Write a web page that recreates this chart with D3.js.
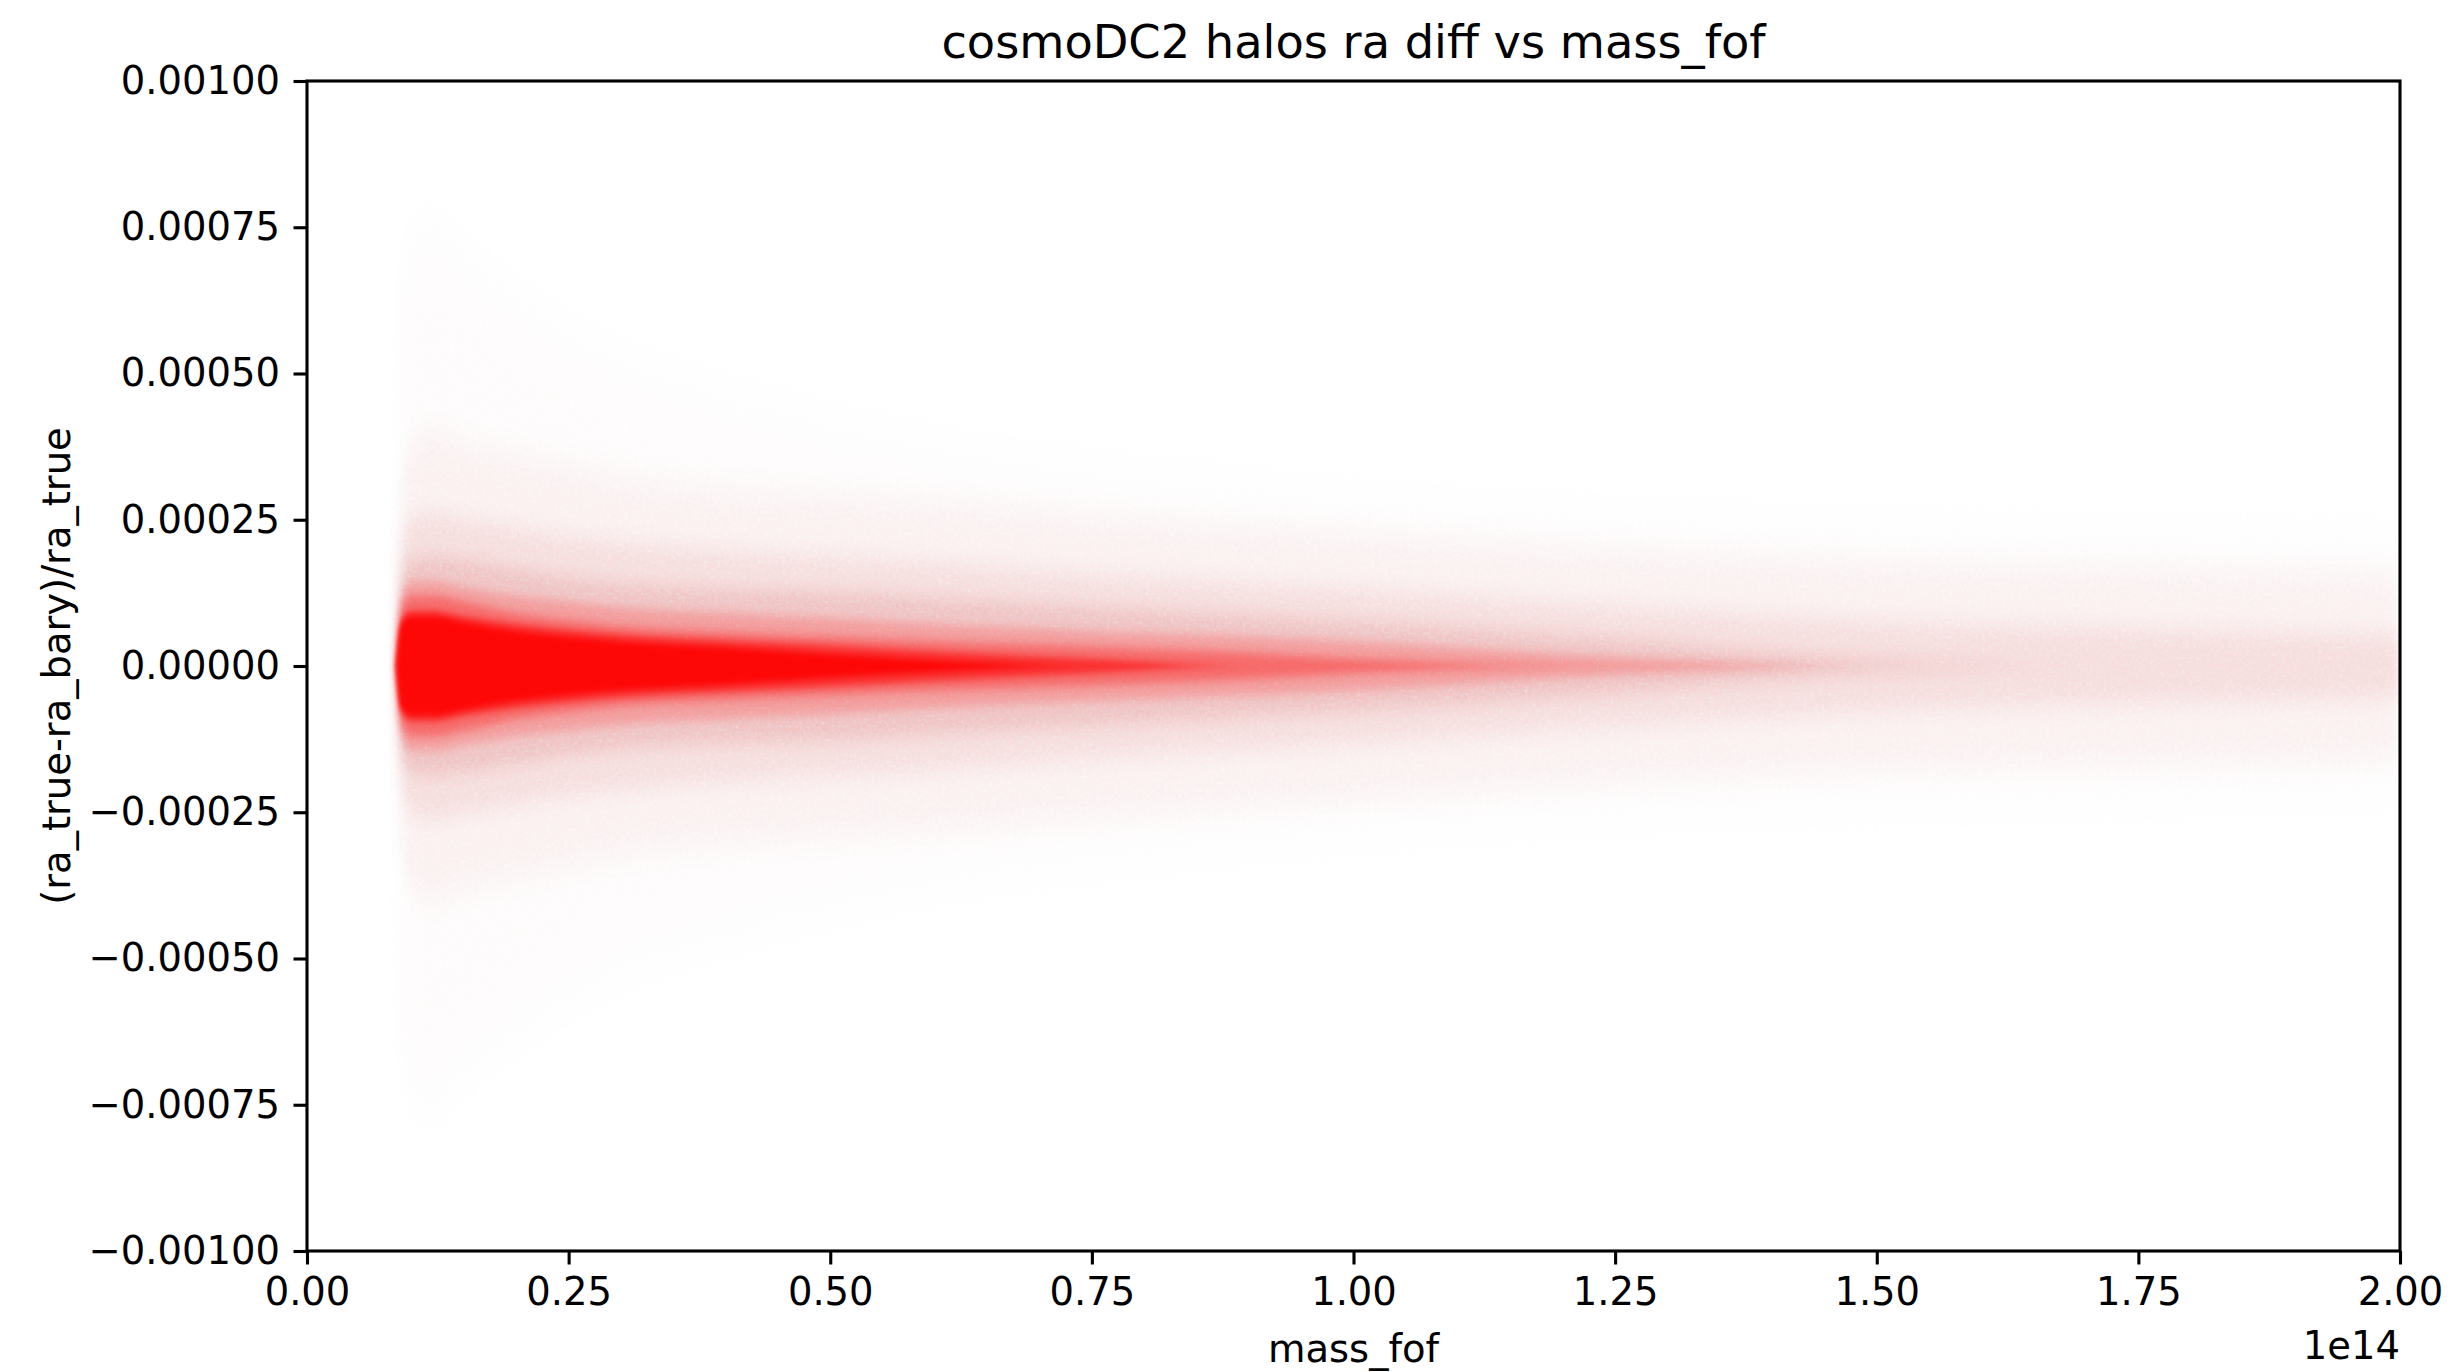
<!DOCTYPE html>
<html>
<head>
<meta charset="utf-8">
<script src="https://cdn.jsdelivr.net/npm/d3@7"></script>
<style>
  html, body { margin: 0; padding: 0; background: #ffffff; }
  svg { display: block; }
  text { font-family: "DejaVu Sans", sans-serif; fill: #000; }
</style>
</head>
<body>
<script>
// ---------------- data ----------------
// x axis: mass_fof in units of 1e14; y axis: (ra_true-ra_bary)/ra_true
const massTicks = [0.00, 0.25, 0.50, 0.75, 1.00, 1.25, 1.50, 1.75, 2.00];
const diffTicks = [-0.00100, -0.00075, -0.00050, -0.00025, 0.00000, 0.00025, 0.00050, 0.00075, 0.00100];

// Density envelope of the scatter cloud.
// For each mass (1e14) the half-width (in units of 1e-4) inside which the
// cloud reaches a given visual density level.
const massGrid   = [0.085, 0.09, 0.10, 0.12, 0.15, 0.20, 0.25, 0.30, 0.40, 0.50, 0.60, 0.75, 0.90, 1.00, 1.25, 1.50, 1.75, 2.00];
const haloWidth  = [0.5,   6.5,  7.5,  7.5,  7.0,  6.3,  5.7,  5.2,  4.6,  4.1,  3.7,  3.3,  3.0,  2.8,  2.5,  2.3,  2.2,  2.1];
const faintWidth = [0.5,   3.0,  3.8,  4.0,  3.8,  3.6,  3.4,  3.2,  3.0,  2.9,  2.8,  2.6,  2.4,  2.3,  2.0,  1.8,  1.7,  1.6];
const lightWidth = [0.3,   2.0,  2.5,  2.6,  2.5,  2.35, 2.2,  2.1,  1.95, 1.85, 1.75, 1.55, 1.4,  1.3,  1.0,  0.75, 0.62, 0.52];
const softWidth  = [0.2,   1.5,  1.8,  1.85, 1.8,  1.65, 1.5,  1.4,  1.3,  1.25, 1.15, 1.0,  0.85, 0.75, 0.45, 0.1,  0.0,  0.0];
const midWidth   = [0.15,  1.2,  1.45, 1.45, 1.35, 1.2,  1.1,  1.0,  0.9,  0.82, 0.72, 0.6,  0.5,  0.42, 0.15, 0.0,  0.0,  0.0];
const strongWidth= [0.1,   1.0,  1.2,  1.2,  1.1,  0.9,  0.78, 0.68, 0.58, 0.5,  0.42, 0.33, 0.22, 0.12, 0.0,  0.0,  0.0,  0.0];
const denseWidth = [0.05,  0.8,  0.95, 0.95, 0.85, 0.72, 0.62, 0.54, 0.44, 0.35, 0.25, 0.12, 0.0,  0.0,  0.0,  0.0,  0.0,  0.0];
const coreWidth  = [0.03,  0.7,  0.85, 0.85, 0.75, 0.6,  0.5,  0.42, 0.32, 0.2,  0.1,  0.0,  0.0,  0.0,  0.0,  0.0,  0.0,  0.0];
// cumulative visual density (opacity of red) reached inside each envelope
const levelDensity = [0.012, 0.05, 0.12, 0.22, 0.37, 0.57, 0.80, 0.97];

// ---------------- layout ----------------
const W = 2455, H = 1372;
const M = { left: 307, right: 2400, top: 81, bottom: 1251 };
const FS = 38.5;
// softness of each envelope edge (x, y px) and whether it is drawn grainy
const layerBlur  = [[10, 40], [8, 18], [6, 12], [5, 9], [3, 5], [3, 4], [2, 3], [2, 3]];
const layerGrain = [true, true, true, true, false, false, false, false];

const svg = d3.select("body").append("svg")
  .attr("width", W).attr("height", H)
  .attr("viewBox", `0 0 ${W} ${H}`);
svg.append("rect").attr("width", W).attr("height", H).attr("fill", "#fff");

const x = d3.scaleLinear().domain([0, 2]).range([M.left, M.right]);
const y = d3.scaleLinear().domain([-0.001, 0.001]).range([M.bottom, M.top]);

const defs = svg.append("defs");
defs.append("clipPath").attr("id", "plotclip")
  .append("rect").attr("x", M.left).attr("y", M.top)
  .attr("width", M.right - M.left).attr("height", M.bottom - M.top);

layerBlur.forEach((b, i) => {
  const f = defs.append("filter").attr("id", "soft" + i)
    .attr("filterUnits", "userSpaceOnUse")
    .attr("x", M.left - 100).attr("y", M.top - 100)
    .attr("width", M.right - M.left + 200).attr("height", M.bottom - M.top + 200)
    .attr("color-interpolation-filters", "sRGB");
  f.append("feGaussianBlur").attr("in", "SourceGraphic")
    .attr("stdDeviation", `${b[0]} ${b[1]}`).attr("result", "blurred");
  if (layerGrain[i]) {
    f.append("feTurbulence").attr("type", "fractalNoise")
      .attr("baseFrequency", 0.28).attr("numOctaves", 2).attr("seed", 3 + i)
      .attr("result", "noise");
    f.append("feColorMatrix").attr("in", "noise").attr("type", "matrix")
      .attr("values", "1 0 0 0 0  1 0 0 0 0  1 0 0 0 0  1 0 0 0 0")
      .attr("result", "grain");
    f.append("feComposite").attr("in", "blurred").attr("in2", "grain")
      .attr("operator", "arithmetic")
      .attr("k1", 1.2).attr("k2", 0.4).attr("k3", 0).attr("k4", 0);
  }
});

// ---------------- density cloud ----------------
const widths = [haloWidth, faintWidth, lightWidth, softWidth, midWidth, strongWidth, denseWidth, coreWidth];
const layers = widths.map((w, i) => {
  const prev = i === 0 ? 0 : levelDensity[i - 1];
  const alpha = 1 - (1 - levelDensity[i]) / (1 - prev);
  return { i, alpha, pts: massGrid.map((m, j) => ({ m, h: w[j] * 1e-4 })) };
});

const area = d3.area()
  .x(d => x(d.m))
  .y0(d => y(-d.h))
  .y1(d => y(d.h))
  .curve(d3.curveMonotoneX);

const cloud = svg.append("g").attr("clip-path", "url(#plotclip)");
cloud.selectAll("g.layer").data(layers).join("g")
  .attr("class", "layer")
  .attr("filter", d => `url(#soft${d.i})`)
  .attr("opacity", d => d.alpha)
  .append("path")
  .attr("d", d => area(d.pts))
  .attr("fill", "#ff0000");

// ---------------- axes ----------------
const xAxis = d3.axisBottom(x)
  .tickValues(massTicks)
  .tickFormat(d3.format(".2f"))
  .tickSizeInner(13.5).tickSizeOuter(0).tickPadding(13.5);
const yAxis = d3.axisLeft(y)
  .tickValues(diffTicks)
  .tickFormat(d => (d < 0 ? "\u2212" : "") + Math.abs(d).toFixed(5))
  .tickSizeInner(13.5).tickSizeOuter(0).tickPadding(13.5);

const gx = svg.append("g").attr("transform", `translate(0,${M.bottom})`).call(xAxis);
const gy = svg.append("g").attr("transform", `translate(${M.left},0)`).call(yAxis);
[gx, gy].forEach(g => {
  g.select(".domain").remove();
  g.selectAll(".tick line").attr("stroke", "#000").attr("stroke-width", 3.1);
  g.selectAll(".tick text").attr("font-size", FS)
    .attr("font-family", "DejaVu Sans").attr("fill", "#000");
});

// frame (spines)
svg.append("rect")
  .attr("x", M.left).attr("y", M.top)
  .attr("width", M.right - M.left).attr("height", M.bottom - M.top)
  .attr("fill", "none").attr("stroke", "#000").attr("stroke-width", 3.1);

// ---------------- texts ----------------
svg.append("text")
  .attr("x", (M.left + M.right) / 2).attr("y", 58)
  .attr("text-anchor", "middle").attr("font-size", 46.3)
  .text("cosmoDC2 halos ra diff vs mass_fof");

svg.append("text")
  .attr("x", (M.left + M.right) / 2).attr("y", 1362)
  .attr("text-anchor", "middle").attr("font-size", FS)
  .text("mass_fof");

svg.append("text")
  .attr("x", M.right).attr("y", 1359)
  .attr("text-anchor", "end").attr("font-size", FS)
  .text("1e14");

svg.append("text")
  .attr("transform", `translate(70,${(M.top + M.bottom) / 2}) rotate(-90)`)
  .attr("text-anchor", "middle").attr("font-size", FS)
  .text("(ra_true-ra_bary)/ra_true");
</script>
</body>
</html>
